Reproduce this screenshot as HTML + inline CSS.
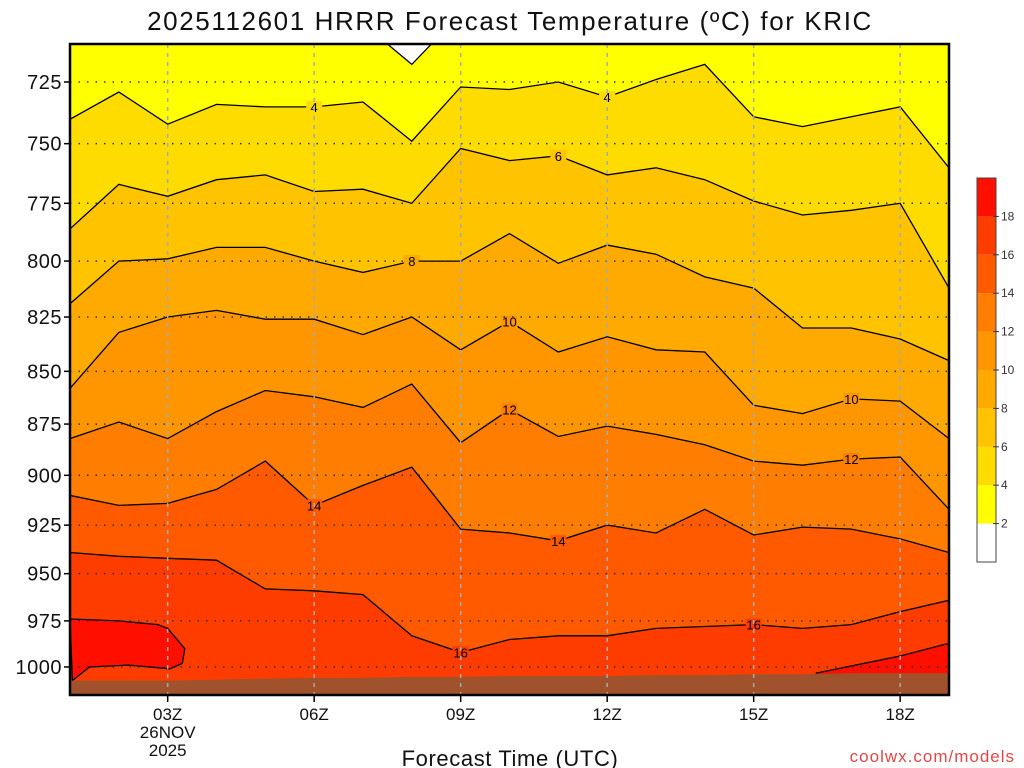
<!DOCTYPE html>
<html><head><meta charset="utf-8"><style>
body{margin:0;background:#fff;}
svg{display:block;font-family:"Liberation Sans",sans-serif;}
</style></head><body>
<svg id="chart" width="1024" height="768" viewBox="0 0 1024 768" xmlns="http://www.w3.org/2000/svg">
<text x="510" y="30" text-anchor="middle" font-size="26" fill="#111" letter-spacing="1.6">2025112601 HRRR Forecast Temperature (ºC) for KRIC</text>
<g id="plot"></g>
<text x="510" y="766" text-anchor="middle" font-size="22" fill="#111" letter-spacing="0.6">Forecast Time (UTC)</text>
<text x="1015" y="762" text-anchor="end" font-size="17" fill="#e04848" letter-spacing="1">coolwx.com/models</text>
</svg>
<script>
// hours 1..19 (01Z..19Z)
const hours = [1,2,3,4,5,6,7,8,9,10,11,12,13,14,15,16,17,18,19];
const levels = [4,6,8,10,12,14,16];
const c4  = [740,729,742,734,735,735,733,749,727,728,725,731,724,718,739,743,739,735,760];
const c6  = [786,767,772,765,763,770,769,775,752,757,755,763,760,765,774,780,778,775,812];
const c8  = [819,800,799,794,794,800,805,800,800,788,801,793,797,807,812,830,830,835,845];
const c10 = [858,832,825,822,826,826,833,825,840,827,841,834,840,841,866,870,863,864,882];
const c12 = [882,874,882,869,859,862,867,856,884,868,881,876,880,885,893,895,892,891,917];
const c14 = [910,915,914,907,893,915,905,896,927,929,933,925,929,917,930,926,927,932,939];
const c16 = [939,941,942,943,958,959,961,983,992,985,983,983,979,978,977,979,977,970,964];
const contours = [c4,c6,c8,c10,c12,c14,c16];
// closed/partial regions (hour, hPa)
const warm18Left = [[1,974],[2,975],[2.8,977],[3,979],[3.35,990],[3.3,998],[3.05,1001],[2.2,999],[1.4,1000],[1.05,1007.5]];
const warm18Right = [[16.27,1003.5],[18,994],[19,987]];
const cold2Top = [[7.5,710],[8,718],[8.4,710]];
const surface = [1007.5,1007.5,1007.5,1007,1006.5,1006,1006,1005.5,1005.5,1005,1005,1005,1004.5,1004.5,1004,1004,1003.5,1003.5,1003.5];
const yTicks = [725,750,775,800,825,850,875,900,925,950,975,1000];
const xTickHours = [3,6,9,12,15,18];
const xTickLabels = ["03Z","06Z","09Z","12Z","15Z","18Z"];
const cbLabels = [2,4,6,8,10,12,14,16,18];
const bandColors = ["#ffffff","#ffff00","#ffdc00","#ffc300","#ffaa00","#ff9600","#ff7d00","#ff5a00","#ff3c00","#ff0f00"];
const labels = [[4,6,4],[4,12,4],[6,11,6],[8,8,8],[10,10,10],[10,17,10],[12,10,12],[12,17,12],[14,6,14],[14,11,14],[16,9,16],[16,15,16]];

const X0=70,X1=949,Y0=44,Y1=695;
const xs = h => X0+(h-1)*(X1-X0)/18;
const ys = p => 82+(Math.log(p)-Math.log(725))*1819;
const NS="http://www.w3.org/2000/svg";
const plot=document.getElementById('plot');
function mk(tag,attrs,parent){const e=document.createElementNS(NS,tag);for(const k in attrs)e.setAttribute(k,attrs[k]);(parent||plot).appendChild(e);return e;}
const pts = arr => arr.map((p,i)=>xs(hours[i]).toFixed(1)+','+ys(p).toFixed(1));

const clip=mk('clipPath',{id:'pc'});mk('rect',{x:X0,y:Y0,width:X1-X0,height:Y1-Y0},clip);
const g=mk('g',{'clip-path':'url(#pc)'});
let bg=mk('rect',{x:X0,y:Y0,width:X1-X0,height:Y1-Y0,fill:bandColors[1]},g);


contours.forEach((c,i)=>{
  const poly=mk('polygon',{points:pts(c).join(' ')+` ${X1+5},${Y1+5} ${X0-5},${Y1+5}`,fill:bandColors[i+2]},g);
  
  
});
const rp=a=>a.map(q=>xs(q[0]).toFixed(1)+','+ys(q[1]).toFixed(1));
let l18=mk('polygon',{points:rp(warm18Left).join(' '),fill:bandColors[9],stroke:'#000','stroke-width':1.3},g);


let r18=mk('polygon',{points:rp(warm18Right).join(' ')+` ${X1+5},${Y1}`,fill:bandColors[9]},g);


let r18l=mk('polyline',{points:rp(warm18Right).join(' '),fill:'none',stroke:'#000','stroke-width':1.3},g);


let w2=mk('polygon',{points:rp(cold2Top).join(' '),fill:'#fff',stroke:'#000','stroke-width':1.3},g);


contours.forEach((c,i)=>{
  const l=mk('polyline',{points:pts(c).join(' '),fill:'none',stroke:'#000','stroke-width':1.3},g);
  
  
});
let gr=mk('polygon',{points:pts(surface).join(' ')+` ${X1+5},${Y1+5} ${X0-5},${Y1+5}`,fill:'#a0522d'},g);


// contour labels
labels.forEach(l=>{
  const li=levels.indexOf(l[0]);
  const c=contours[li];
  const h=l[1];
  const x=xs(h), y=ys(c[h-1]);
  const bk=mk('rect',{x:x-8,y:y-6,width:16,height:12,fill:bandColors[li+2]},g);
  
  
  const t=mk('text',{x:x,y:y+5,'text-anchor':'middle','font-size':13,fill:'#000'},g);
  t.textContent=l[2];
  
  
});
// grid
yTicks.forEach(p=>{
  const y=ys(p);
  const gl=mk('line',{x1:X0,x2:X1,y1:y,y2:y,stroke:'#333','stroke-width':1.5,'stroke-dasharray':'1.5 7'});
  
  
  const tk=mk('line',{x1:X0-6,x2:X0,y1:y,y2:y,stroke:'#000','stroke-width':1.5});
  
  
  const t=mk('text',{x:X0-8,y:y+7,'text-anchor':'end','font-size':20,fill:'#111','letter-spacing':'0.5'});
  t.textContent=p;
  
  
});
xTickHours.forEach((h,i)=>{
  const x=xs(h);
  const gl=mk('line',{x1:x,x2:x,y1:Y0,y2:Y1,stroke:'#aaa','stroke-width':1.5,'stroke-dasharray':'4 5'});
  
  
  const tk=mk('line',{x1:x,x2:x,y1:Y1,y2:Y1+7,stroke:'#000','stroke-width':1.5});
  
  
  const t=mk('text',{x:x,y:720,'text-anchor':'middle','font-size':17,fill:'#111'});
  t.textContent=xTickLabels[i];
  
  
});
let d1=mk('text',{x:xs(3),y:738,'text-anchor':'middle','font-size':17,fill:'#111'});d1.textContent='26NOV';


let d2=mk('text',{x:xs(3),y:756,'text-anchor':'middle','font-size':17,fill:'#111'});d2.textContent='2025';


let fr=mk('rect',{x:X0,y:Y0,width:X1-X0,height:Y1-Y0,fill:'none',stroke:'#000','stroke-width':2.5});


// colorbar
const CB0=178,CBH=38.4;
bandColors.forEach((col,i)=>{
  const r=mk('rect',{x:977,y:CB0+(9-i)*CBH,width:19,height:CBH,fill:col});
  
  
});
let cbf=mk('rect',{x:977,y:CB0,width:19,height:CBH*10,fill:'none',stroke:'#444','stroke-width':1});


cbLabels.forEach((v,i)=>{
  const y=CB0+(9-i)*CBH;
  const tk=mk('line',{x1:993,x2:999,y1:y,y2:y,stroke:'#333'});
  
  
  const t=mk('text',{x:1001,y:y+4,'font-size':12,fill:'#333'});
  t.textContent=v;
  
  
});
</script>
</body></html>
